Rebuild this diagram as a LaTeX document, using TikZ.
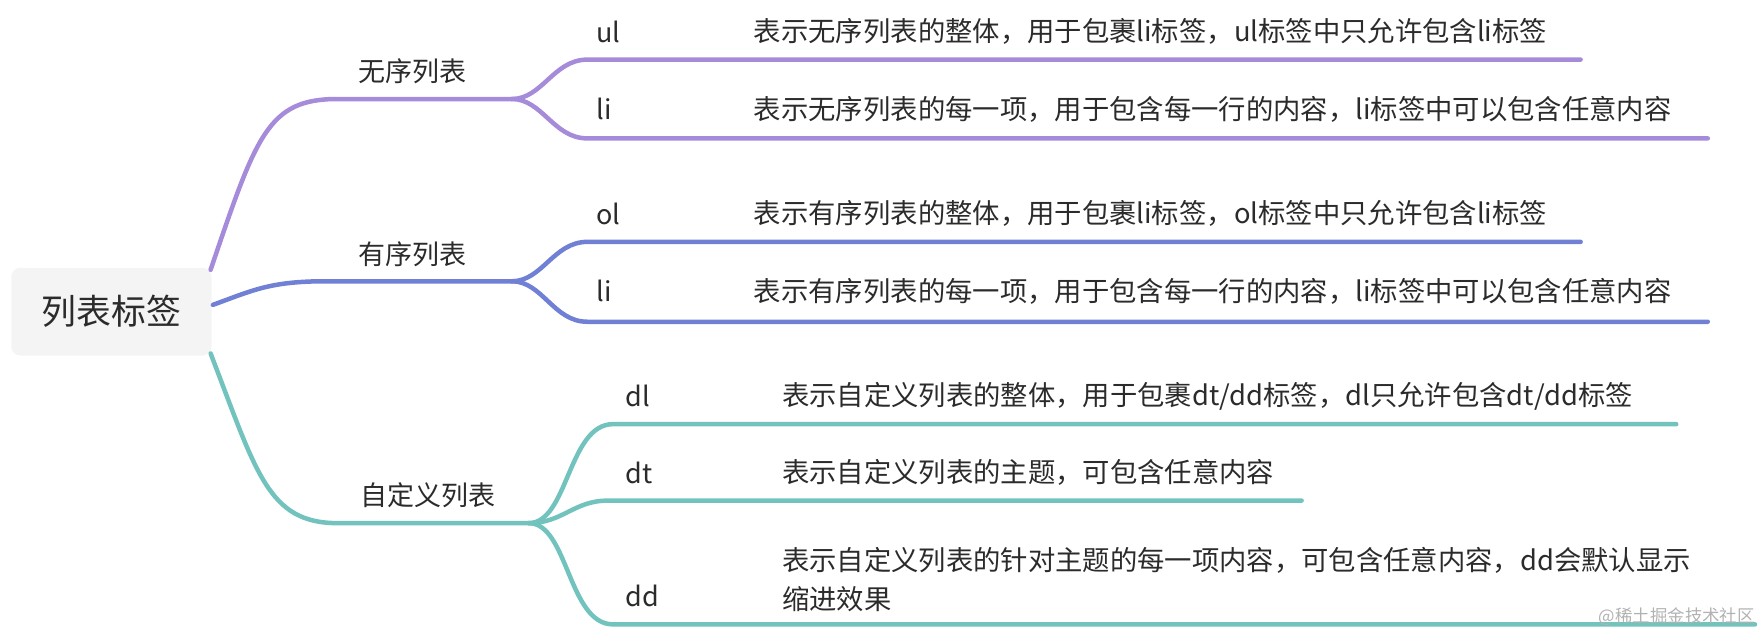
\documentclass[tikz,border=0pt]{standalone}
\usepackage{fontspec}
\setmainfont{Noto Sans CJK SC}
\definecolor{cpur}{HTML}{A58BD9}
\definecolor{cblu}{HTML}{7080D5}
\definecolor{ctea}{HTML}{72C3BE}
\definecolor{ctxt}{HTML}{2B2B2B}
\definecolor{cbox}{HTML}{F4F4F4}
\tikzset{
  rootbox/.style={fill=cbox, rounded corners=8pt, minimum width=178pt, minimum height=78pt, inner sep=0pt, text=ctxt, font=\fontsize{31}{36}\selectfont},
  grp/.style={text=ctxt, inner sep=0pt, font=\fontsize{24}{28}\selectfont},
  tag/.style={text=ctxt, inner sep=0pt, anchor=west, font=\fontsize{24}{28}\selectfont},
  desc/.style={text=ctxt, inner sep=0pt, anchor=west, align=left, font=\fontsize{24.3}{35}\selectfont},
  branch/.style={line width=4pt, line cap=round},
  wm/.style={text=black!30, inner sep=0pt, font=\fontsize{15.5}{18}\selectfont}
}
\begin{document}
\begin{tikzpicture}[x=1pt,y=-1pt]
\useasboundingbox (0,0) rectangle (1568,560);
% root
\node[rootbox] (root) at (99,277) {列表标签};
% group labels
\node[grp] (g1) at (367,63) {无序列表};
\node[grp] (g2) at (367,226) {有序列表};
\node[grp] (g3) at (380,440) {自定义列表};
% junctions
\coordinate (j1) at (455,88);
\coordinate (j2) at (455,250);
\coordinate (j3) at (470,465);
% leaf line starts/ends
\coordinate (a1) at (522,53);  \coordinate (e1) at (1405,53);
\coordinate (a2) at (522,123); \coordinate (e2) at (1518,123);
\coordinate (b1) at (522,215); \coordinate (f1) at (1405,215);
\coordinate (b2) at (522,286); \coordinate (f2) at (1518,286);
\coordinate (c1) at (545,377); \coordinate (h1) at (1490,377);
\coordinate (c2) at (540,445); \coordinate (h2) at (1157,445);
\coordinate (c3) at (545,555); \coordinate (h3) at (1560,555);
% purple
\draw[branch, cpur] (root.north east) ++(-1,2) .. controls (228,120) and (238,88) .. (300,88) -- (j1);
\draw[branch, cpur] (j1) .. controls (482,88) and (492,53) .. (a1) -- (e1);
\draw[branch, cpur] (j1) .. controls (482,88) and (492,123) .. (a2) -- (e2);
% blue
\draw[branch, cblu] (root.east) ++(1,-6) .. controls (225,258) and (240,250) .. (290,250) -- (j2);
\draw[branch, cblu] (j2) .. controls (482,250) and (492,215) .. (b1) -- (f1);
\draw[branch, cblu] (j2) .. controls (482,250) and (492,286) .. (b2) -- (f2);
% teal
\draw[branch, ctea] (root.south east) ++(-1,-2) .. controls (228,420) and (238,465) .. (300,465) -- (j3);
\draw[branch, ctea] (j3) .. controls (505,465) and (505,377) .. (c1) -- (h1);
\draw[branch, ctea] (j3) .. controls (500,465) and (510,445) .. (c2) -- (h2);
\draw[branch, ctea] (j3) .. controls (505,465) and (505,555) .. (c3) -- (h3);
% tags
\node[tag] (ul) at (530,28) {ul};
\node[tag] (li1) at (530,97) {li};
\node[tag] (ol) at (530,190) {ol};
\node[tag] (li2) at (530,259) {li};
\node[tag] (dl) at (556,352) {dl};
\node[tag] (dt) at (556,420) {dt};
\node[tag] (dd) at (556,530) {dd};
% descriptions
\node[desc] (d1) at (670,28) {表示无序列表的整体，用于包裹li标签，ul标签中只允许包含li标签};
\node[desc] (d2) at (670,97) {表示无序列表的每一项，用于包含每一行的内容，li标签中可以包含任意内容};
\node[desc] (d3) at (670,190) {表示有序列表的整体，用于包裹li标签，ol标签中只允许包含li标签};
\node[desc] (d4) at (670,259) {表示有序列表的每一项，用于包含每一行的内容，li标签中可以包含任意内容};
\node[desc] (d5) at (695,352) {表示自定义列表的整体，用于包裹dt/dd标签，dl只允许包含dt/dd标签};
\node[desc] (d6) at (695,420) {表示自定义列表的主题，可包含任意内容};
\node[desc] (d7) at (695,515) {表示自定义列表的针对主题的每一项内容，可包含任意内容，dd会默认显示\\缩进效果};
% watermark
\node[wm, anchor=east] (wmk) at (1560,548) {@稀土掘金技术社区};
\end{tikzpicture}
\end{document}
